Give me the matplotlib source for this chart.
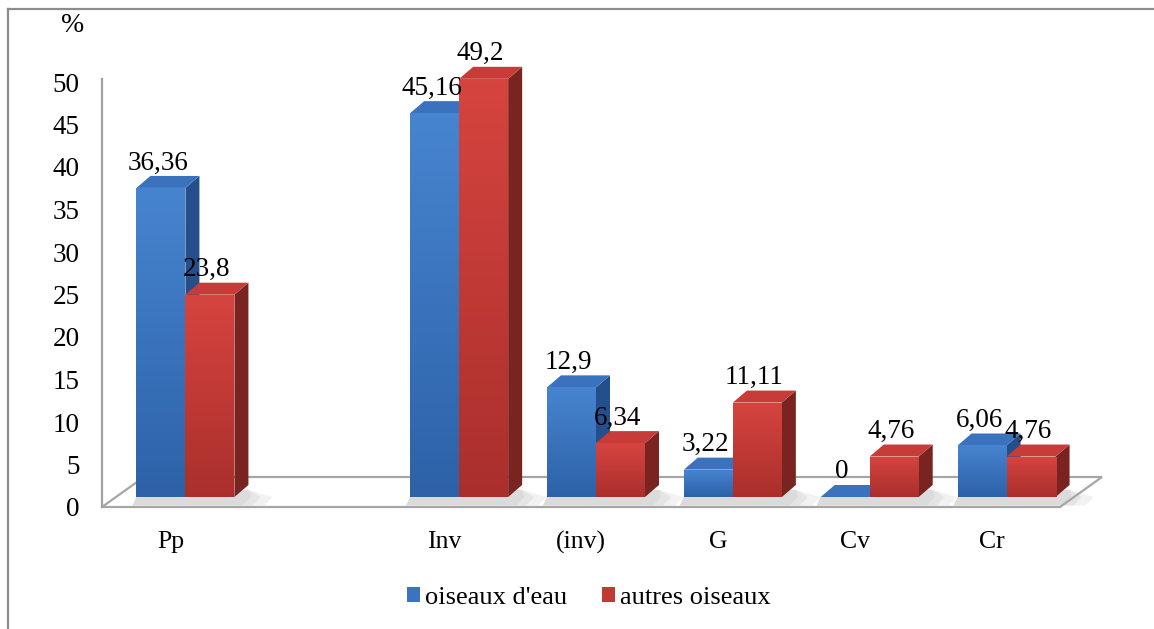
import numpy as np
import matplotlib.pyplot as plt
from matplotlib.patches import Polygon, Rectangle, Patch
from matplotlib.colors import LinearSegmentedColormap
from matplotlib.transforms import ScaledTranslation

plt.rcParams['font.family'] = ['Liberation Serif', 'DejaVu Serif']

# ── Data ──────────────────────────────────────────────────────────────────────
categories = ["Pp", "", "Inv", "(inv)", "G", "Cv", "Cr"]
oiseaux_eau = [36.36, np.nan, 45.16, 12.9, 3.22, 0, 6.06]
autres_oiseaux = [23.8, np.nan, 49.2, 6.34, 11.11, 4.76, 4.76]
series_names = ["oiseaux d'eau", "autres oiseaux"]
yticks = list(range(0, 51, 5))

# ── Figure / axes (pixel layout) ─────────────────────────────────────────────
W, H = 1154, 629
fig = plt.figure(figsize=(W / 100, H / 100), dpi=100)


def px_box(x0, y0, x1, y1):
    return [x0 / W, 1 - y1 / H, (x1 - x0) / W, (y1 - y0) / H]


ax = fig.add_axes(px_box(102, 82, 1060, 507))
ax.set_xlim(-0.5, len(categories) - 0.5)
ax.set_ylim(0, 50)

px_x = (1060 - 102) / len(categories)   # pixels per category
px_y = (507 - 82) / 50                  # pixels per %

# bars sit a little behind the front edge of the floor
bar_tr = ax.transData + ScaledTranslation(0.15, 0.10, fig.dpi_scale_trans)

w = 49 / px_x                    # bar width in data units
ddx, ddy = 14 / px_x, 12 / px_y  # 3-D depth of each bar

# ── Floor ─────────────────────────────────────────────────────────────────────
fdx, fdy = 42 / px_x, 30 / px_y
x_lo, x_hi = ax.get_xlim()
floor_pts = [(x_lo, 0), (x_hi, 0), (x_hi + fdx, fdy), (x_lo + fdx, fdy)]
ax.add_patch(Polygon(floor_pts, closed=True, facecolor='white',
                     edgecolor='none', clip_on=False, zorder=1))
ax.add_patch(Polygon(floor_pts, closed=True, facecolor='none',
                     edgecolor='#a6a6a6', lw=1.6, clip_on=False, zorder=1.4))

# soft shadow of each bar pair on the floor
front_y = -10 / px_y
for i in range(len(categories)):
    if np.isnan(oiseaux_eau[i]):
        continue
    x0, x1 = i - w, i + w
    for grow, a in [(30, 0.35), (18, 0.45), (8, 0.5)]:
        sh = Polygon([(x0 - 4 / px_x, front_y * 0.85),
                      (x1 + grow / px_x, front_y * 0.85),
                      (x1 + (grow + 8) / px_x, 0.0),
                      (x1 + ddx, ddy * 0.6),
                      (x0, 0.0)],
                     closed=True, facecolor='#c4c4c4', edgecolor='none',
                     alpha=a * 0.6, transform=bar_tr, clip_on=False,
                     zorder=1.2)
        ax.add_patch(sh)

# ── Bars ──────────────────────────────────────────────────────────────────────
styles = [
    dict(top_c='#4784d0', bot_c='#2d62a8', side='#244f8a', roof='#3b72bd'),
    dict(top_c='#d6443f', bot_c='#aa2f2c', side='#7a2422', roof='#c73c38'),
]
offsets = [-w, 0.0]   # left edge of each series relative to category


def draw_bar(x0, v, st, z):
    x1 = x0 + w
    side = Polygon([(x1, 0), (x1 + ddx, ddy), (x1 + ddx, v + ddy), (x1, v)],
                   closed=True, facecolor=st['side'], edgecolor='none',
                   transform=bar_tr, clip_on=False, zorder=z)
    roof = Polygon([(x0, v), (x1, v), (x1 + ddx, v + ddy), (x0 + ddx, v + ddy)],
                   closed=True, facecolor=st['roof'], edgecolor='none',
                   transform=bar_tr, clip_on=False, zorder=z)
    ax.add_patch(side)
    ax.add_patch(roof)
    if v <= 0:
        return
    front = Rectangle((x0, 0), w, v, facecolor=st['bot_c'], edgecolor='none',
                      transform=bar_tr, clip_on=False, zorder=z + 0.01)
    ax.add_patch(front)
    cmap = LinearSegmentedColormap.from_list('g', [st['bot_c'], st['top_c']])
    grad = np.linspace(0, 1, 64).reshape(-1, 1)
    im = ax.imshow(grad, cmap=cmap, origin='lower', aspect='auto',
                   extent=[x0, x1, 0, v], transform=bar_tr,
                   zorder=z + 0.02, interpolation='bilinear')
    im.set_clip_path(front)


for s, vals in enumerate([oiseaux_eau, autres_oiseaux]):
    for i, v in enumerate(vals):
        if np.isnan(v):
            continue
        draw_bar(i + offsets[s], v, styles[s], 2 + s)

ax.set_xlim(x_lo, x_hi)
ax.set_ylim(0, 50)

# value labels (French decimal comma)
for s, vals in enumerate([oiseaux_eau, autres_oiseaux]):
    for i, v in enumerate(vals):
        if np.isnan(v):
            continue
        txt = f"{v:g}".replace('.', ',')
        ax.annotate(txt, (i + offsets[s] + w / 2, v), xycoords=bar_tr,
                    xytext=(-3 * 0.72, 25 * 0.72), textcoords='offset points',
                    ha='center', va='center', fontsize=19.5, zorder=10,
                    annotation_clip=False)

# ── Axes styling ──────────────────────────────────────────────────────────────
for sp in ['top', 'right', 'bottom']:
    ax.spines[sp].set_visible(False)
ax.spines['left'].set_color('#a0a0a0')
ax.spines['left'].set_linewidth(1.6)
ax.spines['left'].set_bounds(0, 50.3)
ax.set_yticks(yticks)
ax.set_yticklabels([str(t) for t in yticks], fontsize=19.5)
ax.tick_params(axis='y', length=0, pad=16)
ax.set_xticks(range(len(categories)))
ax.set_xticklabels(categories, fontsize=18.5)
ax.tick_params(axis='x', length=0, pad=17)
ax.patch.set_visible(False)

fig.text(73 / W, 1 - 26 / H, '%', fontsize=20, ha='center', va='center')

# ── Legend ────────────────────────────────────────────────────────────────────
handles = [Patch(facecolor='#3a74c0', edgecolor='none'),
           Patch(facecolor='#c23834', edgecolor='none')]
fig.legend(handles, series_names, loc='center', ncol=2,
           bbox_to_anchor=(589 / W, 1 - 598 / H), frameon=False,
           fontsize=19, handlelength=0.5, handleheight=0.5,
           handletextpad=0.2, columnspacing=1.3)

# outer chart border
fig.add_artist(plt.Line2D([8 / W, 1], [1 - 9 / H, 1 - 9 / H],
                          transform=fig.transFigure, color='#8c8c8c', lw=1.6))
fig.add_artist(plt.Line2D([8 / W, 8 / W], [0, 1 - 9 / H],
                          transform=fig.transFigure, color='#8c8c8c', lw=1.6))

fig.savefig('out.png', dpi=100)
